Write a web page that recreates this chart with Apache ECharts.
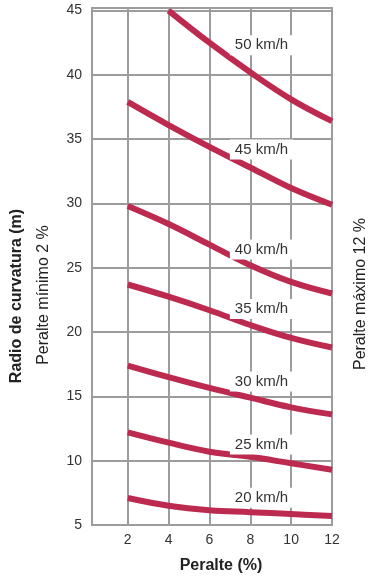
<!DOCTYPE html>
<html>
<head>
<meta charset="utf-8">
<script src="https://cdn.jsdelivr.net/npm/echarts@6/dist/echarts.min.js"></script>
<style>
html,body{margin:0;padding:0;background:#fff;}
#chart{width:375px;height:579px;}
</style>
</head>
<body>
<div id="chart"></div>
<script>
// ---- data ----
const peralte = [2, 4, 6, 8, 10, 12];
const xTicks = [2, 4, 6, 8, 10, 12];
const yTicks = [5, 10, 15, 20, 25, 30, 35, 40, 45];
const speeds = ['20 km/h', '25 km/h', '30 km/h', '35 km/h', '40 km/h', '45 km/h', '50 km/h'];
const r20 = [7.1, 6.5, 6.15, 6.0, 5.85, 5.7];
const r25 = [12.2, 11.4, 10.7, 10.3, 9.8, 9.3];
const r30 = [17.4, 16.5, 15.66, 14.9, 14.15, 13.6];
const r35 = [23.7, 22.75, 21.7, 20.55, 19.55, 18.8];
const r40 = [29.8, 28.4, 26.8, 25.2, 23.9, 23.0];
const r45 = [37.9, 36.1, 34.4, 32.8, 31.2, 29.9];
const r50 = [null, 45.0, 42.5, 40.2, 38.1, 36.4];
const labelX = [8.55, 8.55, 8.55, 8.55, 8.55, 8.55, 8.55];
const labelY = [7.12, 11.25, 16.15, 21.8, 26.42, 34.2, 42.3];

const radii = [r20, r25, r30, r35, r40, r45, r50];
const FONT = '"Liberation Sans", Arial, sans-serif';
const RED = '#bd2a50';
const GRID = '#9c9c9c';

const series = radii.map(function (vals, i) {
  const pts = [];
  vals.forEach(function (v, j) { if (v !== null) pts.push([peralte[j], v]); });
  return {
    type: 'line',
    name: speeds[i],
    data: pts,
    smooth: 0.4,
    showSymbol: false,
    symbol: 'none',
    lineStyle: { color: RED, width: 6, cap: 'butt' },
    z: 3,
    silent: true,
    markPoint: {
      symbol: 'rect',
      symbolSize: 0,
      silent: true,
      data: [{ coord: [labelX[i], labelY[i]] }],
      label: {
        show: true,
        position: 'inside',
        formatter: speeds[i],
        fontFamily: FONT,
        fontSize: 15,
        color: '#333',
        backgroundColor: '#fff',
        padding: [3, 5, 2, 5]
      },
      z: 5
    }
  };
});

const chart = echarts.init(document.getElementById('chart'), null, { renderer: 'canvas' });
chart.setOption({
  animation: false,
  backgroundColor: '#fff',
  grid: { left: 92, right: 43, top: 8, bottom: 54, show: true, borderColor: GRID, borderWidth: 2, backgroundColor: 'transparent' },
  xAxis: {
    type: 'value',
    min: 0.25,
    max: 12,
    axisLine: { show: true, lineStyle: { color: GRID, width: 2 } },
    axisTick: { show: false, customValues: xTicks },
    axisLabel: { customValues: xTicks, fontFamily: FONT, fontSize: 14, color: '#333', margin: 8 },
    splitLine: { show: true, lineStyle: { color: GRID, width: 2 } }
  },
  yAxis: {
    type: 'value',
    min: 5,
    max: 45.2,
    axisLine: { show: true, lineStyle: { color: GRID, width: 2 } },
    axisTick: { show: false, customValues: yTicks },
    axisLabel: { customValues: yTicks, fontFamily: FONT, fontSize: 14, color: '#333', margin: 10 },
    splitLine: { show: true, lineStyle: { color: GRID, width: 2 } }
  },
  graphic: [
    { type: 'text', x: 17, y: 296, rotation: Math.PI / 2,
      style: { text: 'Radio de curvatura (m)', font: 'bold 16px ' + FONT, fill: '#222', align: 'center', verticalAlign: 'middle' } },
    { type: 'text', x: 44, y: 295, rotation: Math.PI / 2,
      style: { text: 'Peralte mínimo 2 %', font: '16px ' + FONT, fill: '#222', align: 'center', verticalAlign: 'middle' } },
    { type: 'text', x: 361, y: 294, rotation: Math.PI / 2,
      style: { text: 'Peralte máximo 12 %', font: '16px ' + FONT, fill: '#222', align: 'center', verticalAlign: 'middle' } },
    { type: 'text', x: 221, y: 566,
      style: { text: 'Peralte (%)', font: 'bold 16px ' + FONT, fill: '#222', align: 'center', verticalAlign: 'middle' } }
  ],
  series: series
});
</script>
</body>
</html>
